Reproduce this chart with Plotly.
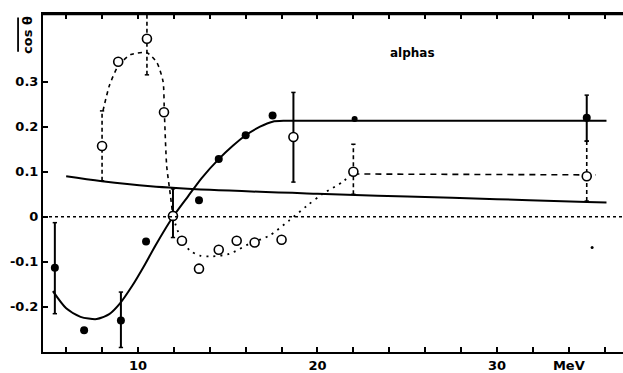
import plotly.graph_objects as go

# ---------------- data ----------------
filled_x = [5.37, 7.0, 9.05, 10.45, 13.4, 14.5, 16.0, 17.5, 35.0]
filled_y = [-0.113, -0.252, -0.23, -0.055, 0.037, 0.128, 0.181, 0.225, 0.22]

small_filled_x = [22.07]
small_filled_y = [0.217]

open_x = [8.0, 8.9, 10.5, 11.45, 11.95, 12.45, 13.4, 14.5, 15.5, 16.5, 18.0, 18.66, 22.0, 35.0]
open_y = [0.157, 0.344, 0.395, 0.232, 0.002, -0.053, -0.115, -0.073, -0.053, -0.057, -0.051, 0.177, 0.10, 0.09]

speck_x = [35.3]
speck_y = [-0.068]

err_solid_x = [5.37, 9.05, 11.95, 18.66, 35.0]
err_solid_lo = [-0.215, -0.29, -0.046, 0.077, 0.168]
err_solid_hi = [-0.013, -0.167, 0.062, 0.276, 0.27]
err_dash_x = [8.0, 10.5, 22.0, 35.0]
err_dash_lo = [0.08, 0.315, 0.05, 0.035]
err_dash_hi = [0.235, 0.47, 0.161, 0.168]

curve_s_x = [5.26, 6.0, 6.8, 7.7, 8.4, 9.0, 9.7, 10.3, 11.0, 11.95, 12.8, 13.55, 14.5, 15.3, 16.0, 16.8, 17.5, 18.2, 22.0, 28.0, 36.1]
curve_s_y = [-0.165, -0.203, -0.222, -0.227, -0.216, -0.192, -0.152, -0.112, -0.062, 0.0, 0.046, 0.086, 0.128, 0.158, 0.181, 0.2, 0.211, 0.213, 0.213, 0.213, 0.213]

curve_b_x = [6.0, 8.0, 10.7, 14.0, 20.0, 25.0, 30.0, 35.0, 36.1]
curve_b_y = [0.09, 0.079, 0.068, 0.06, 0.051, 0.045, 0.039, 0.033, 0.032]

curve_p_x = [8.05, 8.4, 8.9, 9.6, 10.5, 11.06, 11.4, 11.47, 11.6, 11.8, 11.95]
curve_p_y = [0.235, 0.29, 0.335, 0.36, 0.364, 0.342, 0.30, 0.232, 0.113, 0.05, 0.0]

curve_d_x = [11.95, 12.45, 12.9, 13.45, 14.0, 15.1, 16.2, 17.3, 18.4, 19.4, 20.3, 21.45, 22.0]
curve_d_y = [0.0, -0.053, -0.075, -0.086, -0.088, -0.082, -0.06, -0.042, -0.009, 0.024, 0.051, 0.079, 0.10]

curve_h_x = [22.0, 35.0, 35.5]
curve_h_y = [0.095, 0.093, 0.093]

x_tickvals = [6, 8, 10, 12, 14, 16, 18, 20, 22, 24, 26, 28, 30, 32, 34, 36]
x_ticktext = ["", "", "10", "", "", "", "", "20", "", "", "", "", "30", "", "MeV", ""]
y_tickvals = [-0.2, -0.1, 0, 0.1, 0.2, 0.3]
y_ticktext = ["-0.2", "-0.1", "0", "0.1", "0.2", "0.3"]

label_text = "alphas"
ylabel_text = "cos θ"

x_range = [4.71, 37.02]
y_range = [-0.3, 0.45]

# ---------------- figure ----------------
fig = go.Figure()
blk = "black"

fig.add_hline(y=0, line=dict(color=blk, width=1.5, dash="dot"))

fig.add_trace(go.Scatter(x=curve_b_x, y=curve_b_y, mode="lines",
                         line=dict(color=blk, width=2, shape="spline"), showlegend=False))
fig.add_trace(go.Scatter(x=curve_s_x, y=curve_s_y, mode="lines",
                         line=dict(color=blk, width=2, shape="spline", smoothing=0.7), showlegend=False))
fig.add_trace(go.Scatter(x=curve_p_x, y=curve_p_y, mode="lines",
                         line=dict(color=blk, width=1.6, shape="spline", smoothing=0.6, dash="4px,4px"), showlegend=False))
fig.add_trace(go.Scatter(x=curve_d_x, y=curve_d_y, mode="lines",
                         line=dict(color=blk, width=1.8, shape="spline", smoothing=0.8, dash="2px,5px"), showlegend=False))
fig.add_trace(go.Scatter(x=curve_h_x, y=curve_h_y, mode="lines",
                         line=dict(color=blk, width=1.6, dash="6px,5px"), showlegend=False))

def add_err(xs, lo, hi, dash, width):
    ex, ey = [], []
    for x, a, b in zip(xs, lo, hi):
        ex += [x, x, None]
        ey += [a, b, None]
    fig.add_trace(go.Scatter(x=ex, y=ey, mode="lines",
                             line=dict(color=blk, width=width, dash=dash), showlegend=False))
    cx, cy = [], []
    for x, a, b in zip(xs, lo, hi):
        cx += [x - 0.12, x + 0.12, None, x - 0.12, x + 0.12, None]
        cy += [a, a, None, b, b, None]
    fig.add_trace(go.Scatter(x=cx, y=cy, mode="lines",
                             line=dict(color=blk, width=1.5), showlegend=False))

add_err(err_solid_x, err_solid_lo, err_solid_hi, "solid", 2)
add_err(err_dash_x, err_dash_lo, err_dash_hi, "4px,3px", 1.6)

fig.add_trace(go.Scatter(x=open_x, y=open_y, mode="markers",
                         marker=dict(symbol="circle", size=9, color="white",
                                     line=dict(color=blk, width=1.6)), showlegend=False))
fig.add_trace(go.Scatter(x=filled_x, y=filled_y, mode="markers",
                         marker=dict(symbol="circle", size=8, color=blk), showlegend=False))
fig.add_trace(go.Scatter(x=small_filled_x, y=small_filled_y, mode="markers",
                         marker=dict(symbol="circle", size=6, color=blk), showlegend=False))
fig.add_trace(go.Scatter(x=speck_x, y=speck_y, mode="markers",
                         marker=dict(symbol="circle", size=3, color=blk), showlegend=False))

fig.add_annotation(x=25.3, y=0.363, text=label_text, showarrow=False,
                   font=dict(size=12, color=blk, weight="bold"))

fig.add_annotation(xref="paper", yref="paper", x=-0.026, y=0.938, text=ylabel_text,
                   xanchor="center", yanchor="middle",
                   textangle=-90, showarrow=False,
                   font=dict(size=13, color=blk, weight="bold"))
fig.add_shape(type="line", xref="paper", yref="paper", x0=-0.043, x1=-0.043,
              y0=0.888, y1=0.99, line=dict(color=blk, width=1.8))

fig.update_layout(
    width=623, height=373,
    margin=dict(l=43, r=0, t=14, b=19),
    paper_bgcolor="white", plot_bgcolor="white",
    font=dict(family="DejaVu Sans", color=blk),
    xaxis=dict(range=x_range, tickvals=x_tickvals, ticktext=x_ticktext,
               ticks="inside", ticklen=5, tickwidth=1.5, tickcolor=blk,
               showline=True, linewidth=2, linecolor=blk, mirror="allticks",
               showgrid=False, zeroline=False,
               tickfont=dict(size=13, color=blk, weight="bold")),
    yaxis=dict(range=y_range, tickvals=y_tickvals, ticktext=y_ticktext,
               ticks="inside", ticklen=5, tickwidth=1.5, tickcolor=blk,
               showline=True, linewidth=2, linecolor=blk,
               showgrid=False, zeroline=False,
               tickfont=dict(size=13, color=blk, weight="bold")),
)
# top frame line (explicit, drawn above everything)
fig.add_shape(type="line", xref="paper", yref="paper", x0=0, x1=1,
              y0=1, y1=1, layer="above", line=dict(color="#000000", width=2.5))

fig.write_html("out.html")
